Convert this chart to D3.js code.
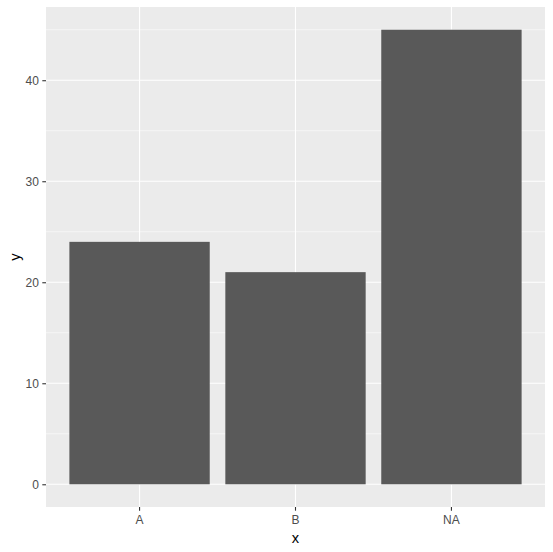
<!DOCTYPE html>
<html>
<head>
<meta charset="utf-8">
<script src="https://cdn.jsdelivr.net/npm/d3@7"></script>
<style>
  body { margin: 0; background: #fff; }
  svg { display: block; font-family: Arial, "Liberation Sans", sans-serif; }
</style>
</head>
<body>
<svg id="chart" width="553" height="552"></svg>
<script>
// data
const categories = ["A", "B", "NA"];
const values = [24, 21, 45];
const yTicks = [0, 10, 20, 30, 40];
const yMinor = [5, 15, 25, 35, 45];

const svg = d3.select("#chart");
const panel = { left: 46, top: 7, right: 545, bottom: 507 };

// scales (ggplot-like expansion)
const yMax = d3.max(values);
const y = d3.scaleLinear()
  .domain([-yMax * 0.05, yMax * 1.05])
  .range([panel.bottom, panel.top]);

const x = d3.scaleBand()
  .domain(categories)
  .range([panel.left, panel.right])
  .paddingInner(0.1)
  .paddingOuter(0.15);

const cx = d => x(d) + x.bandwidth() / 2;

// panel background
svg.append("rect")
  .attr("x", panel.left)
  .attr("y", panel.top)
  .attr("width", panel.right - panel.left)
  .attr("height", panel.bottom - panel.top)
  .attr("fill", "#EBEBEB");

// minor grid
svg.selectAll(".minor")
  .data(yMinor)
  .enter()
  .append("line")
  .attr("x1", panel.left).attr("x2", panel.right)
  .attr("y1", d => y(d)).attr("y2", d => y(d))
  .attr("stroke", "#fff")
  .attr("stroke-width", 0.55);

// major grid
svg.selectAll(".major-y")
  .data(yTicks)
  .enter()
  .append("line")
  .attr("x1", panel.left).attr("x2", panel.right)
  .attr("y1", d => y(d)).attr("y2", d => y(d))
  .attr("stroke", "#fff")
  .attr("stroke-width", 1.1);

svg.selectAll(".major-x")
  .data(categories)
  .enter()
  .append("line")
  .attr("x1", cx).attr("x2", cx)
  .attr("y1", panel.top).attr("y2", panel.bottom)
  .attr("stroke", "#fff")
  .attr("stroke-width", 1.1);

// bars
svg.selectAll(".bar")
  .data(categories)
  .enter()
  .append("rect")
  .attr("x", d => x(d))
  .attr("width", x.bandwidth())
  .attr("y", (d, i) => y(values[i]))
  .attr("height", (d, i) => y(0) - y(values[i]))
  .attr("fill", "#595959");

// y axis
const yAxis = svg.append("g")
  .attr("transform", `translate(${panel.left},0)`)
  .call(d3.axisLeft(y).tickValues(yTicks).tickSize(3.7).tickPadding(3.5));
yAxis.select(".domain").remove();
yAxis.selectAll(".tick line").attr("stroke", "#333333").attr("stroke-width", 1.1);
yAxis.selectAll(".tick text")
  .attr("fill", "#4D4D4D")
  .style("font-size", "12px")
  .style("font-family", "Arial, 'Liberation Sans', sans-serif");

// x axis
const xAxis = svg.append("g")
  .attr("transform", `translate(0,${panel.bottom})`)
  .call(d3.axisBottom(x).tickSize(3.7).tickPadding(5));
xAxis.select(".domain").remove();
xAxis.selectAll(".tick line").attr("stroke", "#333333").attr("stroke-width", 1.1);
xAxis.selectAll(".tick text")
  .attr("fill", "#4D4D4D")
  .style("font-size", "12px")
  .style("font-family", "Arial, 'Liberation Sans', sans-serif");

// axis titles
svg.append("text")
  .attr("x", (panel.left + panel.right) / 2)
  .attr("y", 543)
  .attr("text-anchor", "middle")
  .style("font-size", "14.7px")
  .attr("fill", "#000")
  .text("x");

svg.append("text")
  .attr("transform", `translate(20,${(panel.top + panel.bottom) / 2}) rotate(-90)`)
  .attr("text-anchor", "middle")
  .style("font-size", "14.7px")
  .attr("fill", "#000")
  .text("y");
</script>
</body>
</html>
